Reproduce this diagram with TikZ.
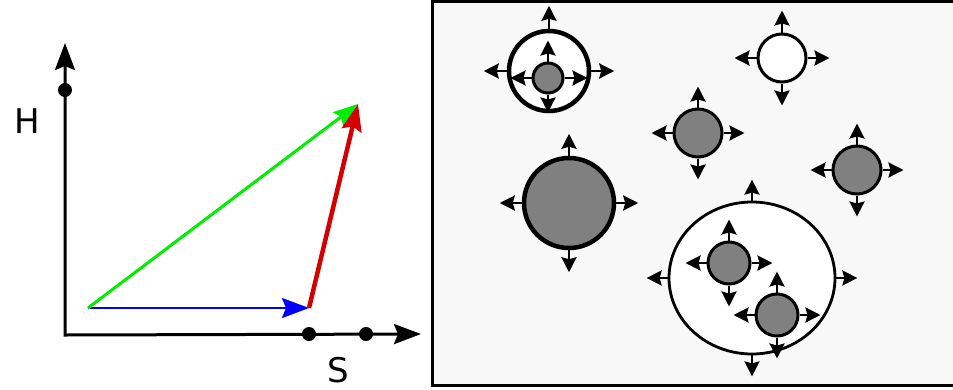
\documentclass[tikz,border=0pt]{standalone}
\usepackage{fontspec}
\setmainfont{DejaVu Sans}
\usetikzlibrary{arrows.meta,shapes.geometric}
\definecolor{cellgray}{HTML}{808080}
\definecolor{panelbg}{HTML}{F8F8F8}
\definecolor{vecblue}{HTML}{0000FF}
\definecolor{vecgreen}{HTML}{00EE00}
\definecolor{vecred}{HTML}{D40000}
\begin{document}
\begin{tikzpicture}[x=1pt,y=-1pt,
  bigtip/.style={-{Stealth[length=27pt,width=20pt,inset=4pt]}},
  axisline/.style={line width=3pt,{Stealth[length=27pt,width=20pt,inset=4pt]}-{Stealth[length=27pt,width=20pt,inset=4pt]}},
  dot/.style={circle,fill=black,inner sep=0pt,minimum size=14pt},
  lbl/.style={font=\fontsize{34}{40}\selectfont,inner sep=0pt},
  cellarrow/.style={line width=2.5pt,-{Stealth[length=15pt,width=15pt,inset=2pt]}},
  graycell/.style={circle,draw,fill=cellgray,line width=3pt,inner sep=0pt,minimum size=#1},
  whitecell/.style={circle,draw,fill=white,line width=3pt,inner sep=0pt,minimum size=#1}
]
\useasboundingbox (0,0) rectangle (953,389);
% ---------- left panel ----------
\coordinate (O) at (65,335);
\coordinate (ytip) at (65,43);
\coordinate (xtip) at (421,334);
\draw[axisline] (ytip) -- (O) -- (xtip);
\node[dot] (hd) at (65,90) {};
\node[dot] (s1) at (309,334) {};
\node[dot] (s2) at (366,334) {};
\node[lbl] (H) at (27,121) {H};
\node[lbl] (S) at (338,370) {S};
\coordinate (A) at (88,308);
\coordinate (B) at (309,308);
\coordinate (C) at (358,104);
\draw[bigtip,line width=2.5pt,vecblue] (A) -- (B);
\draw[-{Stealth[length=25pt,width=17pt,inset=4pt]},line width=3pt,vecgreen] (A) -- (C);
\draw[bigtip,line width=4.5pt,vecred] (B) -- (C);
% ---------- right panel ----------
\draw[line width=3pt,fill=panelbg] (432,1.5) rectangle (956,385);
% top-left compound cell
\node[whitecell=80pt,line width=4.5pt] (c1o) at (549,71) {};
\node[graycell=30pt] (c1i) at (548,78) {};
\draw[cellarrow] (c1o.north) -- ++(0,-23);
\draw[cellarrow] (c1o.west) -- ++(-23,0);
\draw[cellarrow] (c1o.east) -- ++(23,0);
\draw[cellarrow] (c1i.north) -- ++(0,-21);
\draw[cellarrow] (c1i.south) -- ++(0,18);
\draw[cellarrow] (c1i.west) -- ++(-21,0);
\draw[cellarrow] (c1i.east) -- ++(23,0);
% top-right white cell
\node[whitecell=48pt] (c2) at (782,58) {};
% middle gray cell
\node[graycell=48pt] (c3) at (698,133) {};
% right gray cell
\node[graycell=48pt] (c4) at (857,170) {};
% big gray cell
\node[graycell=90pt,line width=4.5pt] (c5) at (569,203) {};
% big white ellipse
\node[ellipse,draw,fill=white,line width=2.8pt,inner sep=0pt,minimum width=166pt,minimum height=152pt] (c6) at (752,278) {};
% inner gray cells
\node[graycell=42pt] (c7) at (729,263) {};
\node[graycell=42pt] (c8) at (777,315) {};
\foreach \n/\l in {c2/22,c3/21,c4/21,c5/22,c6/21,c7/21,c8/21}{
  \draw[cellarrow] (\n.north) -- ++(0,-\l);
  \draw[cellarrow] (\n.south) -- ++(0,\l);
  \draw[cellarrow] (\n.west) -- ++(-\l,0);
  \draw[cellarrow] (\n.east) -- ++(\l,0);
}
\end{tikzpicture}
\end{document}
